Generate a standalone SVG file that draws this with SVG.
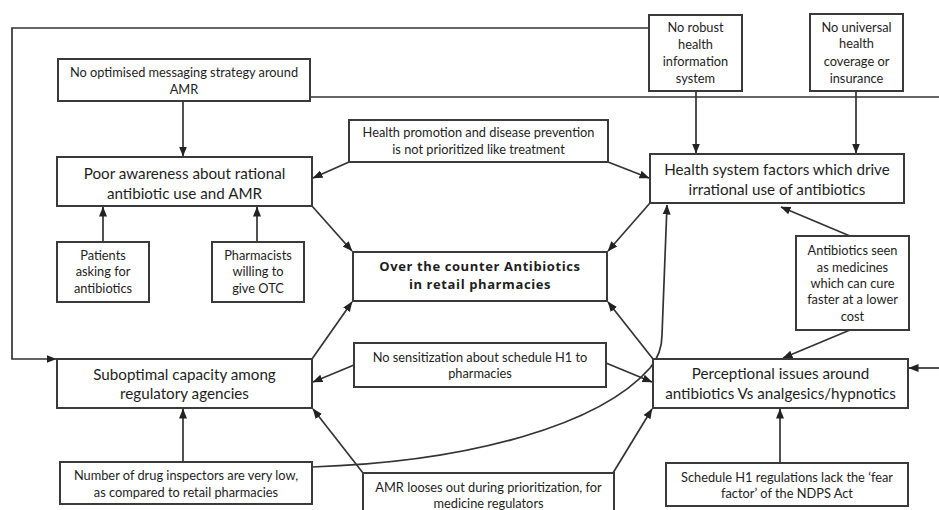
<svg xmlns="http://www.w3.org/2000/svg" width="939" height="510" viewBox="0 0 939 510">
<defs>
<marker id="ah" markerUnits="userSpaceOnUse" markerWidth="10" markerHeight="10" viewBox="0 0 10 10" refX="9.5" refY="5" orient="auto">
<path d="M0,1 L10,5 L0,9 Z" fill="#222"/>
</marker>
<style>
.box{fill:#fff;stroke:#3a3a3a;stroke-width:2}
.ln{fill:none;stroke:#333;stroke-width:1.7}
.ar{marker-end:url(#ah)}
text{font-family:Lato,"Open Sans","Liberation Sans",sans-serif;fill:#1e1e1e;text-anchor:middle}
.s{font-size:12.8px}
.l{font-size:15.2px}
.b{font-family:"Open Sans","Liberation Sans",sans-serif;font-weight:700;font-size:13px;letter-spacing:0.6px}
</style>
</defs>
<rect width="939" height="510" fill="#fff"/>
<g id="connectors">
<path class="ln ar" d="M649,28 H12 V359 H56"/>
<path class="ln" d="M310,97 H939"/>
<path class="ln ar" d="M183,101 V156"/>
<path class="ln ar" d="M696,91 V153"/>
<path class="ln ar" d="M856,91 V153"/>
<path class="ln ar" d="M349,162 L313,178"/>
<path class="ln ar" d="M608,162 L649,178"/>
<path class="ln ar" d="M103,242 V207"/>
<path class="ln ar" d="M257,242 V207"/>
<path class="ln ar" d="M312,206 L352,251"/>
<path class="ln ar" d="M650,203 L608,251"/>
<path class="ln ar" d="M850,236 L781,207"/>
<path class="ln ar" d="M850,330 L783,358"/>
<path class="ln ar" d="M312,359 L352,302"/>
<path class="ln ar" d="M653,359 L608,302"/>
<path class="ln ar" d="M354,365 L313,382"/>
<path class="ln ar" d="M606,363 L652,382"/>
<path class="ln ar" d="M183,462 V409"/>
<path class="ln ar" d="M363,473 L313,409"/>
<path class="ln ar" d="M613,473 L652,409"/>
<path class="ln ar" d="M312,467 C470,462 600,425 650,368 C660,356 662,345 662,335 L667,205"/>
<path class="ln ar" d="M939,368 H909"/>
<path class="ln ar" d="M780,463 V409"/>
</g>
<g id="n-messaging"><rect class="box" x="58" y="59" width="252" height="42"/>
<text class="s" x="184" y="76.5">No optimised messaging strategy around</text>
<text class="s" x="184" y="93.5">AMR</text></g>
<g id="n-norobust"><rect class="box" x="649" y="15" width="93" height="76"/>
<text class="s" x="695.5" y="31.5">No robust</text>
<text class="s" x="695.5" y="48.5">health</text>
<text class="s" x="695.5" y="65.5">information</text>
<text class="s" x="695.5" y="83">system</text></g>
<g id="n-nouniversal"><rect class="box" x="810" y="14" width="93" height="77"/>
<text class="s" x="856.5" y="31.5">No universal</text>
<text class="s" x="856.5" y="47.5">health</text>
<text class="s" x="856.5" y="65.5">coverage or</text>
<text class="s" x="856.5" y="82.5">insurance</text></g>
<g id="n-healthpromo"><rect class="box" x="349" y="120" width="259" height="42"/>
<text class="s" x="478.5" y="136.5">Health promotion  and disease prevention</text>
<text class="s" x="478.5" y="153.5">is not prioritized  like treatment</text></g>
<g id="n-poor"><rect class="box" x="57" y="157" width="255" height="49"/>
<text class="l" x="184.5" y="178.5">Poor awareness about rational</text>
<text class="l" x="184.5" y="198.5">antibiotic use and AMR</text></g>
<g id="n-healthsys"><rect class="box" x="650" y="154" width="254" height="49"/>
<text class="l" x="777" y="174.5">Health system factors which drive</text>
<text class="l" x="777" y="194.5">irrational use of antibiotics</text></g>
<g id="n-patients"><rect class="box" x="57" y="242" width="92" height="60"/>
<text class="s" x="103" y="259.5">Patients</text>
<text class="s" x="103" y="275.5">asking for</text>
<text class="s" x="103" y="292.5">antibiotics</text></g>
<g id="n-pharmacists"><rect class="box" x="212" y="242" width="92" height="60"/>
<text class="s" x="258" y="259.5">Pharmacists</text>
<text class="s" x="258" y="275.5">willing to</text>
<text class="s" x="258" y="292.5">give OTC</text></g>
<g id="n-otc"><rect class="box" x="353" y="252" width="254" height="49"/>
<text class="b" x="480" y="270.5">Over the counter Antibiotics</text>
<text class="b" x="480" y="288.5">in retail pharmacies</text></g>
<g id="n-antibioticsseen"><rect class="box" x="796" y="236" width="113" height="94"/>
<text class="s" x="852.5" y="254.5">Antibiotics seen</text>
<text class="s" x="852.5" y="271.5">as medicines</text>
<text class="s" x="852.5" y="287.5">which can cure</text>
<text class="s" x="852.5" y="303.5">faster at a lower</text>
<text class="s" x="852.5" y="320.5">cost</text></g>
<g id="n-suboptimal"><rect class="box" x="57" y="359" width="255" height="49"/>
<text class="l" x="184.5" y="379.5">Suboptimal capacity among</text>
<text class="l" x="184.5" y="398.5">regulatory agencies</text></g>
<g id="n-nosens"><rect class="box" x="354" y="343" width="252" height="44"/>
<text class="s" x="480" y="361.5">No sensitization about schedule H1 to</text>
<text class="s" x="480" y="377.5">pharmacies</text></g>
<g id="n-perceptional"><rect class="box" x="653" y="359" width="255" height="49"/>
<text class="l" x="780.5" y="378.5">Perceptional issues around</text>
<text class="l" x="780.5" y="398.5">antibiotics Vs analgesics/hypnotics</text></g>
<g id="n-number"><rect class="box" x="60" y="462" width="252" height="42"/>
<text class="s" x="186" y="479.5">Number of drug inspectors are very low,</text>
<text class="s" x="186" y="496.5">as compared to retail pharmacies</text></g>
<g id="n-amr"><rect class="box" x="363" y="473" width="251" height="45"/>
<text class="s" x="488.5" y="491.5">AMR looses out during prioritization,  for</text>
<text class="s" x="488.5" y="507.5">medicine regulators</text></g>
<g id="n-schedule"><rect class="box" x="666" y="463" width="242" height="43"/>
<text class="s" x="787" y="481.5">Schedule H1 regulations lack the ‘fear</text>
<text class="s" x="787" y="497.5">factor’ of the NDPS Act</text></g>
</svg>
